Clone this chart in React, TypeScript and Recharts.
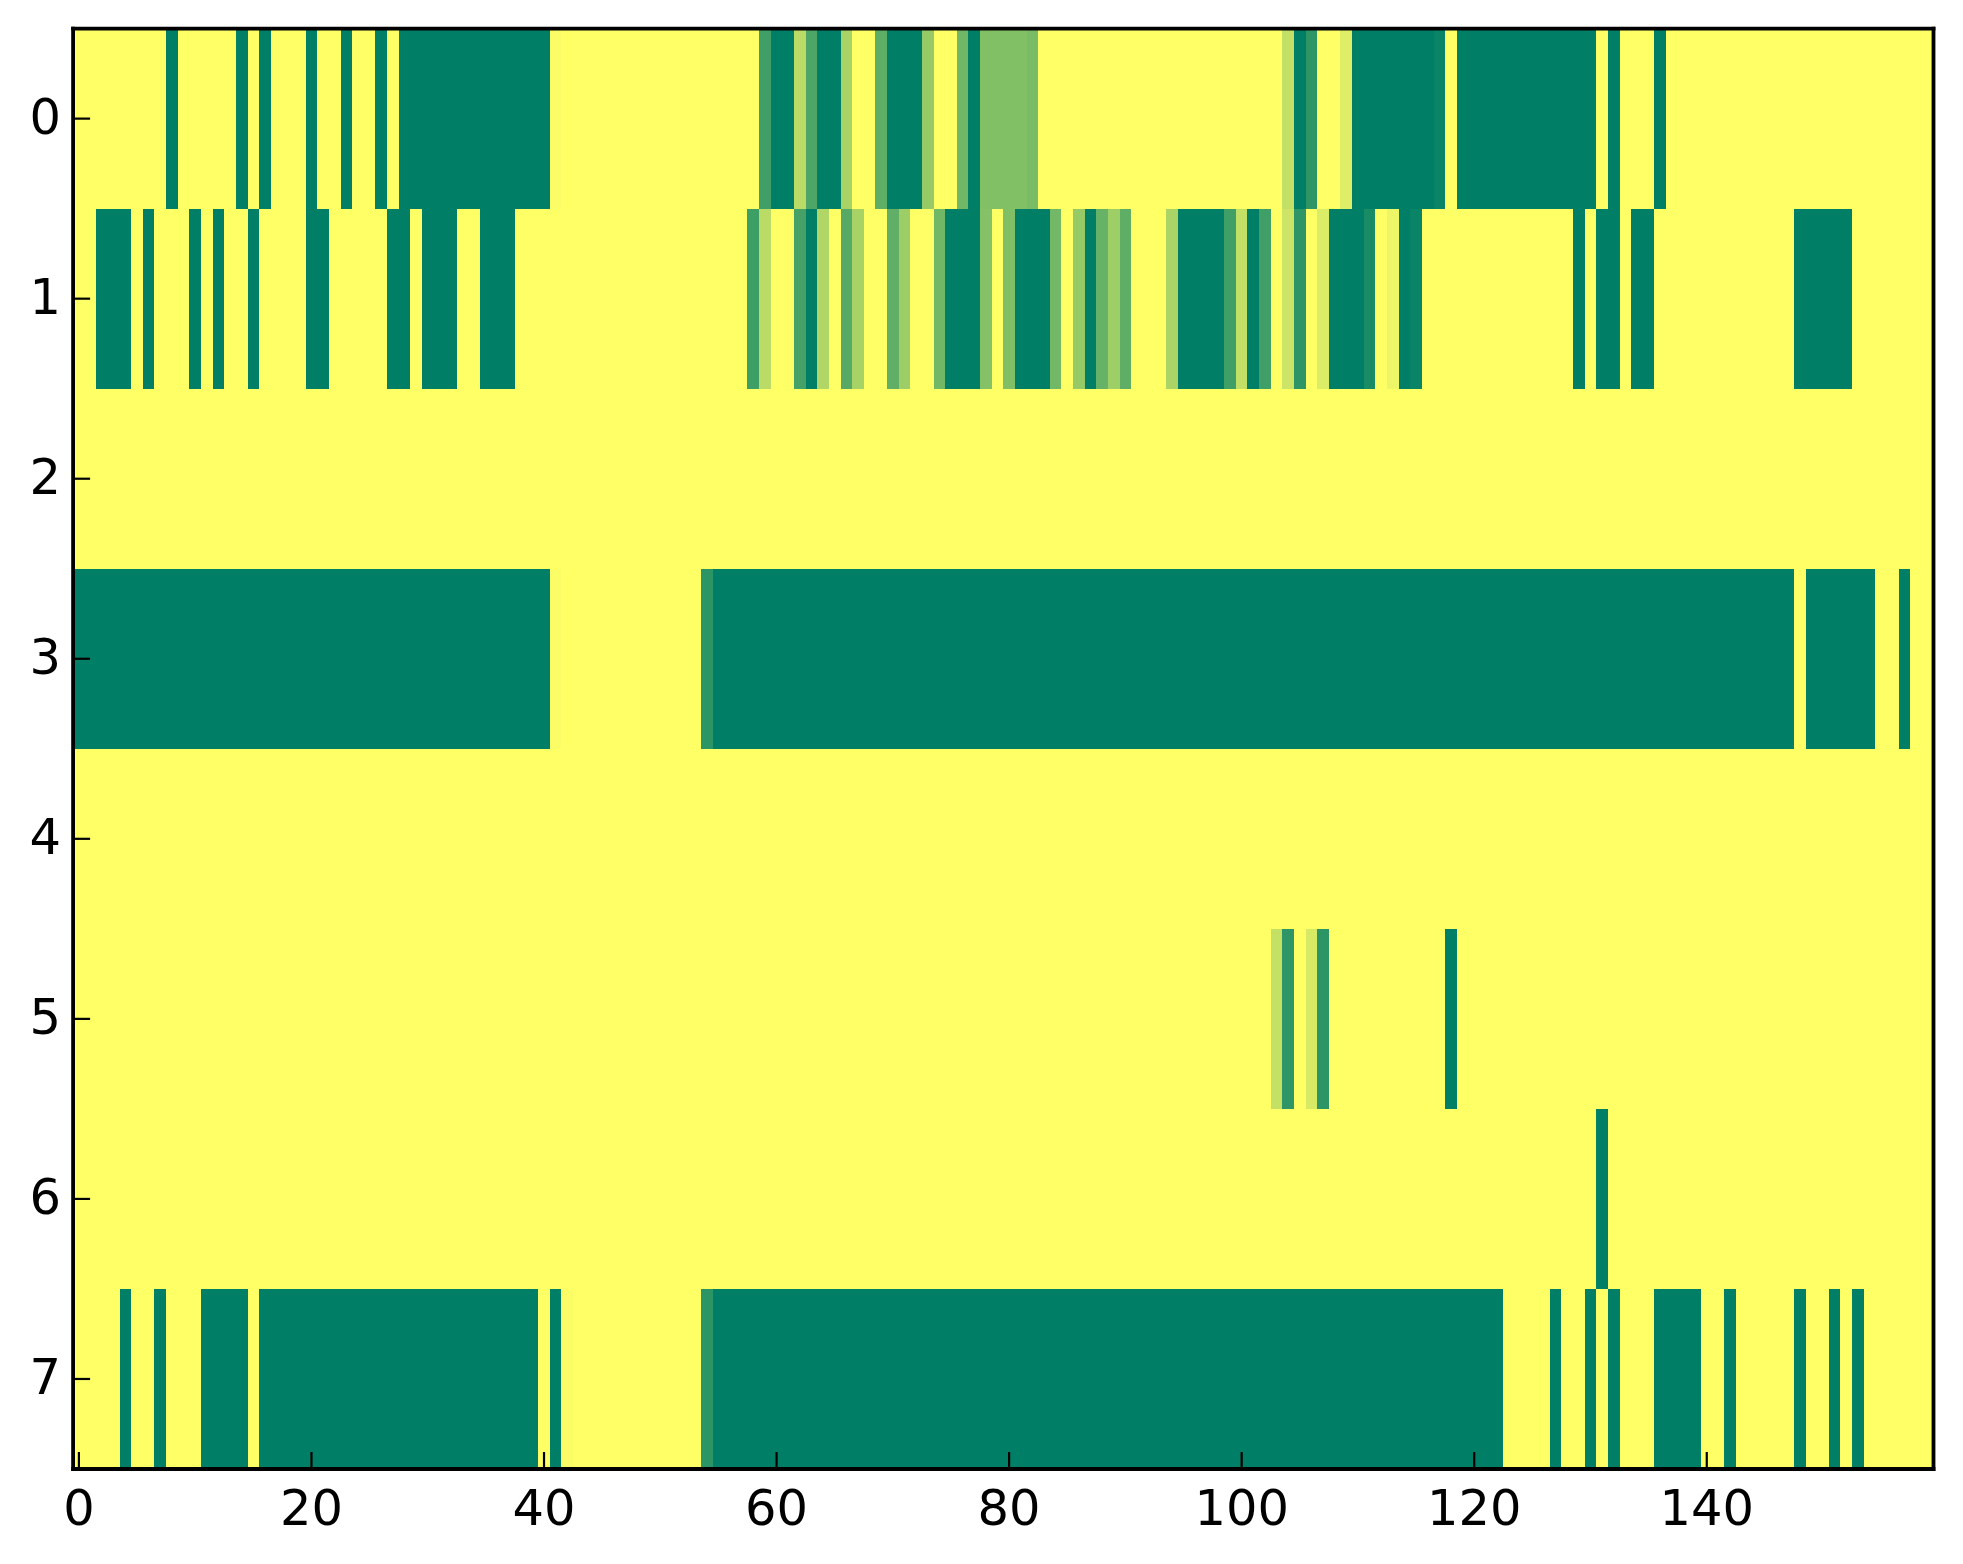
import React from "react";
import { ScatterChart, Scatter, XAxis, YAxis } from "recharts";

// Each row of the heat map: runs of [firstColumn, lastColumn, value]; anything not listed is 0.
const row0: number[][] = [
  [8,8,1],[14,14,1],[16,16,1],[20,20,1],[23,23,1],[26,26,1],[28,40,1],[41,41,0.01],
  [59,59,0.75],[60,61,1],[62,62,0.27],[63,63,0.7],[64,65,1],[66,66,0.34],[69,69,0.63],[70,72,1],[73,73,0.41],
  [76,76,0.56],[77,77,1],[78,81,0.49],[82,82,0.52],
  [104,104,0.24],[105,105,1],[106,106,0.82],[109,109,0.13],[110,116,1],[117,117,0.96],[119,130,1],[132,132,1],[136,136,1],
];
const row1: number[][] = [
  [2,4,1],[6,6,1],[10,10,1],[12,12,1],[15,15,1],[20,21,1],[27,28,1],[30,32,1],[35,37,1],
  [58,58,0.76],[59,59,0.27],[62,62,0.73],[63,63,1],[64,64,0.31],[66,66,0.66],[67,67,0.35],[70,70,0.62],[71,71,0.39],
  [74,74,0.56],[75,77,1],[78,78,0.48],[80,80,0.5],[81,83,1],[84,84,0.55],[86,86,0.41],[87,87,1],[88,88,0.6],[89,89,0.38],[90,90,0.63],
  [94,94,0.33],[95,98,1],[99,99,0.75],[100,100,0.24],[101,101,1],[102,102,0.75],[104,104,0.2],[105,105,0.82],[107,107,0.14],
  [108,110,1],[111,111,0.9],[113,113,0.07],[114,114,1],[115,115,0.96],[129,129,1],[131,132,1],[134,135,1],[148,152,1],
];
const row2: number[][] = [];
const row3: number[][] = [[0,40,1],[41,41,0.01],[54,54,0.83],[55,147,1],[149,154,1],[157,157,1]];
const row4: number[][] = [];
const row5: number[][] = [[103,103,0.23],[104,104,0.82],[106,106,0.16],[107,107,0.83],[117,117,0.005],[118,118,1]];
const row6: number[][] = [[131,131,1]];
const row7: number[][] = [
  [4,4,1],[7,7,1],[11,14,1],[16,39,1],[41,41,1],[42,42,0.01],[54,54,0.83],[55,122,1],
  [127,127,1],[130,130,1],[132,132,1],[136,139,1],[142,142,1],[148,148,1],[151,151,1],[153,153,1],
];

const rows = [row0, row1, row2, row3, row4, row5, row6, row7];
const columnCount = 160;
const xTicks = [0, 20, 40, 60, 80, 100, 120, 140];
const yTicks = [0, 1, 2, 3, 4, 5, 6, 7];

const cells: { col: number; row: number; value: number }[] = [];
rows.forEach((runs, row) => {
  for (let col = 0; col < columnCount; col++) {
    const run = runs.find((r) => col >= r[0] && col <= r[1]);
    cells.push({ col, row, value: run ? run[2] : 0 });
  }
});

const WIDTH = 1963;
const HEIGHT = 1564;
const LEFT = 73.1;
const RIGHT = 29.5;
const TOP = 28.6;
const BOTTOM = 95;
const CELL_W = (WIDTH - LEFT - RIGHT) / columnCount;
const CELL_H = (HEIGHT - TOP - BOTTOM) / rows.length;
const TICK_LEN = 17;
const TICK_W = 2.2;
const FONT = { fontFamily: "'DejaVu Sans'", fontSize: 49.5, fill: "#000" };

// matplotlib's reversed "summer" colour map
const summerR = (v: number) =>
  `rgb(${Math.round(255 * (1 - v))},${Math.floor(127.5 + 127.5 * (1 - v))},102)`;

const CellShape = (p: any) => (
  <rect
    x={p.cx - CELL_W / 2}
    y={p.cy - CELL_H / 2}
    width={CELL_W}
    height={CELL_H}
    fill={summerR(p.payload.value)}
    shapeRendering="crispEdges"
  />
);

const BottomTick = (p: any) => (
  <g>
    <line x1={p.x} x2={p.x} y1={p.y} y2={p.y - TICK_LEN} stroke="#000" strokeWidth={TICK_W} />
    <text x={p.x} y={p.y + 56} textAnchor="middle" {...FONT}>{p.payload.value}</text>
  </g>
);
const TopTick = (p: any) => (
  <line x1={p.x} x2={p.x} y1={p.y} y2={p.y + TICK_LEN} stroke="#000" strokeWidth={TICK_W} />
);
const LeftTick = (p: any) => (
  <g>
    <line x1={p.x} x2={p.x + TICK_LEN} y1={p.y} y2={p.y} stroke="#000" strokeWidth={TICK_W} />
    <text x={p.x - 12} y={p.y + 15.5} textAnchor="end" {...FONT}>{p.payload.value}</text>
  </g>
);
const RightTick = (p: any) => (
  <line x1={p.x} x2={p.x - TICK_LEN} y1={p.y} y2={p.y} stroke="#000" strokeWidth={TICK_W} />
);

const spine = { stroke: "#000", strokeWidth: 3.8, strokeLinecap: "square" as const };

export default function App() {
  return (
    <div style={{ position: "absolute", left: 0, top: 0, width: WIDTH, height: HEIGHT, background: "#fff" }}>
      <ScatterChart width={WIDTH} height={HEIGHT} margin={{ top: 0, right: 0, bottom: 0, left: 0 }}>
        <XAxis xAxisId="b" dataKey="col" type="number" orientation="bottom" domain={[-0.5, 159.5]} ticks={xTicks}
          interval={0} height={BOTTOM} tickSize={0} tickMargin={0} tickLine={false} axisLine={spine} tick={BottomTick} zIndex={900} />
        <XAxis xAxisId="t" dataKey="col" type="number" orientation="top" domain={[-0.5, 159.5]} ticks={xTicks}
          interval={0} height={TOP} tickSize={0} tickMargin={0} tickLine={false} axisLine={spine} tick={TopTick} zIndex={900} />
        <YAxis yAxisId="l" dataKey="row" type="number" orientation="left" reversed domain={[-0.5, 7.5]} ticks={yTicks}
          interval={0} width={LEFT} tickSize={0} tickMargin={0} tickLine={false} axisLine={spine} tick={LeftTick} zIndex={900} />
        <YAxis yAxisId="r" dataKey="row" type="number" orientation="right" reversed domain={[-0.5, 7.5]} ticks={yTicks}
          interval={0} width={RIGHT} tickSize={0} tickMargin={0} tickLine={false} axisLine={spine} tick={RightTick} zIndex={900} />
        <Scatter data={cells} xAxisId="b" yAxisId="l" shape={CellShape} isAnimationActive={false} zIndex={100} />
        <Scatter data={[]} xAxisId="t" yAxisId="r" isAnimationActive={false} />
      </ScatterChart>
    </div>
  );
}
